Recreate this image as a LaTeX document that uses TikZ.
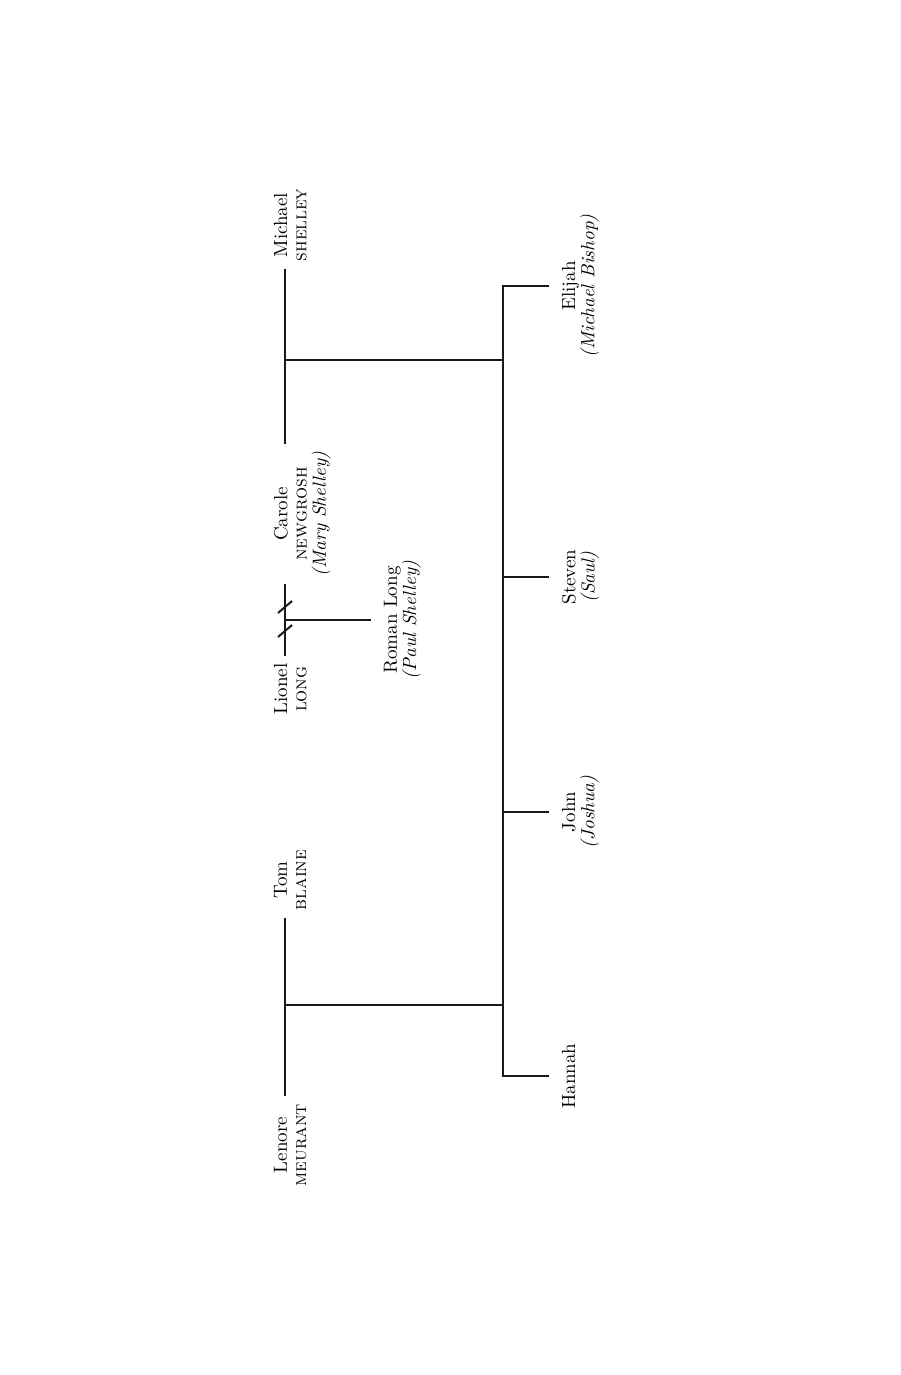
\documentclass[tikz,border=0pt]{standalone}
\usepackage{tikz}
\usetikzlibrary{calc,positioning}

\begin{document}
\begin{tikzpicture}[x=.5pt,y=-.5pt,
  kin/.style={line width=1.3pt,black!90},
  person/.style={rotate=90,align=center,anchor=north,inner sep=0pt,
    outer xsep=4pt,outer ysep=0pt,font=\fontsize{9.5}{9.6}\selectfont},
  child/.style={person,outer xsep=0pt,outer ysep=6.5pt}]
  \useasboundingbox (0,0) rectangle (900,1375);
  \coordinate (mcJ) at (285,360);
  \coordinate (ltJ) at (285,1005);
  \coordinate (div) at (285,620);
  \coordinate (bar) at (503,0);
  % parents
  \node[person] (michael) at (274,225) {Michael\\\textsc{shelley}};
  \node[person] (carole) at (274,514) {Carole\\\textsc{newgrosh}\\\textit{(Mary Shelley)}};
  \node[person] (lionel) at (274,689) {Lionel\\\textsc{long}};
  \node[person] (tom) at (274,880) {Tom\\\textsc{blaine}};
  \node[person] (lenore) at (274,1145) {Lenore\\\textsc{meurant}};
  \node[child] (roman) at (371,620) {Roman Long\\\textit{(Paul Shelley)}};
  % children
  \node[child] (elijah) at (549,286) {Elijah\\\textit{(Michael Bishop)}};
  \node[child] (steven) at (549,577) {Steven\\\textit{(Saul)}};
  \node[child] (john) at (549,812) {John\\\textit{(Joshua)}};
  \node[child] (hannah) at (549,1076) {Hannah};
  \draw[kin] (michael.west -| mcJ) -- (carole.east -| mcJ);
  \draw[kin] (carole.west -| mcJ) -- (lionel.east -| mcJ);
  \draw[kin] (tom.west -| ltJ) -- (lenore.east -| ltJ);
  \foreach \d in {-13,11}
    \draw[kin,line width=1pt] ($(div)+(-7,\d+6)$) -- ($(div)+(7,\d-6)$);
  \draw[kin] (div) -- (roman.north);
  \draw[kin] (mcJ) -- (mcJ -| bar);
  \draw[kin] (ltJ) -- (ltJ -| bar);
  \draw[kin] (elijah.north) -- (elijah.north -| bar) -- (hannah.north -| bar) -- (hannah.north);
  \foreach \k in {steven,john}
    \draw[kin] (\k.north -| bar) -- (\k.north);
\end{tikzpicture}
\end{document}
